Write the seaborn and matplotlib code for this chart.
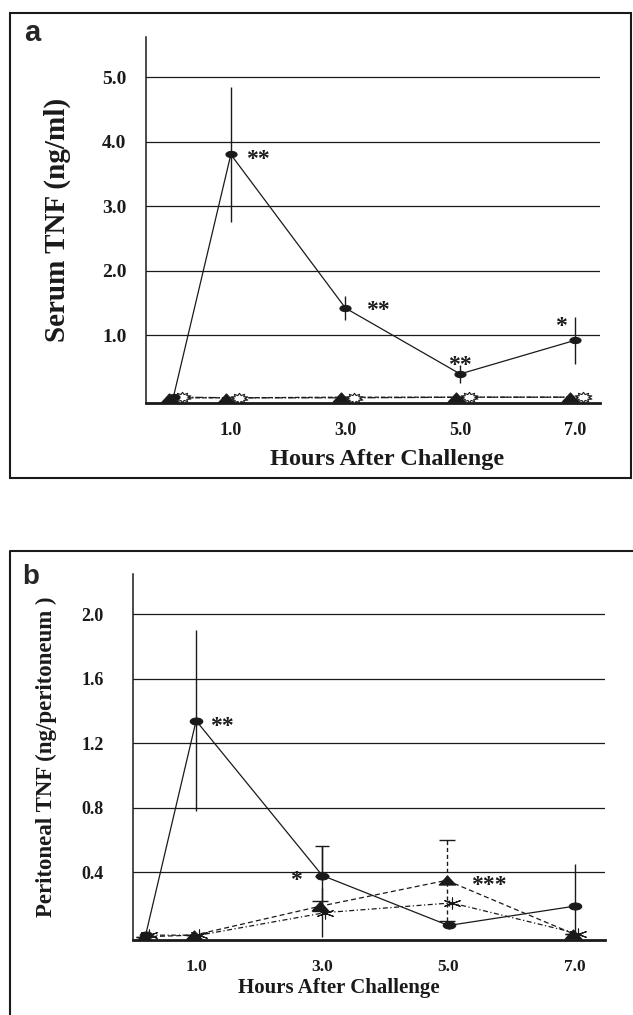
import matplotlib
matplotlib.use("Agg")
import numpy as np
import pandas as pd
import matplotlib.pyplot as plt
from matplotlib.path import Path
from matplotlib.transforms import Affine2D
from matplotlib.lines import Line2D
from matplotlib.patches import Rectangle
import seaborn as sns

# ---- panel a: serum TNF (ng/ml) ----
a_hours = [0.0, 1.0, 3.0, 5.0, 7.0]
a_tnf = [0.05, 3.80, 1.42, 0.40, 0.92]
a_tnf_err = [0.0, 1.05, 0.18, 0.14, 0.36]
a_tri = [0.03, 0.03, 0.04, 0.04, 0.04]
a_star = [0.04, 0.03, 0.03, 0.04, 0.04]
a_sig = ["", "**", "**", "**", "*"]
a_yticks = [1.0, 2.0, 3.0, 4.0, 5.0]

# ---- panel b: peritoneal TNF (ng/peritoneum) ----
b_hours = [0.2, 1.0, 3.0, 5.0, 7.0]
b_tnf = [0.01, 1.34, 0.38, 0.07, 0.19]
b_tnf_err = [0.0, 0.56, 0.18, 0.02, 0.26]
b_tnf_cap = [False, False, True, False, False]
b_tri = [0.0, 0.01, 0.19, 0.35, 0.02]
b_tri_err = [0.0, 0.0, 0.03, 0.25, 0.0]
b_star = [0.01, 0.01, 0.15, 0.21, 0.02]
b_star_err = [0.0, 0.0, 0.15, 0.02, 0.0]
b_sig_tnf = ["", "**", "*", "", ""]
b_sig_tri = ["", "", "", "***", ""]
b_yticks = [0.4, 0.8, 1.2, 1.6, 2.0]

xtick_hours = [1.0, 3.0, 5.0, 7.0]

sns.set_theme(style="white")
plt.rcParams["font.family"] = ["Liberation Serif", "DejaVu Serif"]
plt.rcParams["font.weight"] = "bold"

ellipse = Path.unit_circle().transformed(Affine2D().scale(1.8, 1.0))
flat_tri = Path([(-1, -0.55), (1, -0.55), (0, 0.55), (-1, -0.55)],
                [Path.MOVETO, Path.LINETO, Path.LINETO, Path.CLOSEPOLY])
sun = Path.unit_regular_star(10, 0.6).transformed(Affine2D().scale(1.7, 1.0))
arrows = Path.unit_regular_asterisk(6).transformed(Affine2D().scale(1.6, 1.0))

W, H = 633, 1015
SIG_SIZE = 17
fig = plt.figure(figsize=(W / 100, H / 100), dpi=100)


def frac_box(left, top, right, bottom):
    return [left / W, 1 - bottom / H, (right - left) / W, (bottom - top) / H]


def series(ax, x, y, marker, ms, ls, face="k", dx=0.0):
    df = pd.DataFrame({"hours": np.asarray(x) + dx, "tnf": y})
    sns.lineplot(data=df, x="hours", y="tnf", ax=ax, color="k", lw=0.9,
                 linestyle=ls, marker=marker, markersize=ms,
                 markerfacecolor=face, markeredgecolor="k",
                 markeredgewidth=0.8, sort=False, errorbar=None, zorder=4)


def sig(ax, text, xy, dx, dy, ha):
    # the serif asterisk sits high in its box, so pull it down a little
    ax.annotate(text, xy, xytext=(dx, dy - 0.23 * SIG_SIZE),
                textcoords="offset points", ha=ha, va="center",
                fontsize=SIG_SIZE, fontweight="bold", color="k")


def style_axes(ax, xlim, ylim, yticks, xsize, ysize, ypad):
    ax.set_xlim(*xlim)
    ax.set_ylim(*ylim)
    ax.set_yticks(yticks)
    ax.set_yticklabels(["%.1f" % v for v in yticks])
    ax.yaxis.grid(True, color="#1a1a1a", lw=0.9)
    ax.xaxis.grid(False)
    ax.set_axisbelow(True)
    for s in ["top", "right"]:
        ax.spines[s].set_visible(False)
    ax.spines["left"].set_linewidth(1.1)
    ax.spines["bottom"].set_linewidth(2.0)
    ax.spines["left"].set_color("k")
    ax.spines["bottom"].set_color("k")
    ax.tick_params(axis="y", length=0, pad=ypad, labelsize=ysize,
                   colors="k")
    ax.tick_params(axis="x", direction="inout", length=10, width=1,
                   colors="k", labelsize=xsize)


# ---------------- panel a ----------------
ax = fig.add_axes(frac_box(146, 37, 600, 403))
series(ax, a_hours, a_tri, flat_tri, 12, "--", dx=-0.08)
series(ax, a_hours, a_star, sun, 12, "-.", face="w", dx=0.15)
series(ax, a_hours, a_tnf, ellipse, 8, "-")
ax.errorbar(a_hours, a_tnf, yerr=a_tnf_err, fmt="none", ecolor="k",
            elinewidth=1, capsize=0, zorder=3)
style_axes(ax, (-0.48, 7.44), (-0.05, 5.62), a_yticks, 13, 14, 14)
ax.set_xticks([0.0] + xtick_hours)
ax.set_xticklabels([""] + ["%.1f" % h for h in xtick_hours])
ax.tick_params(axis="x", pad=9)
ax.set_xlabel("Hours After Challenge", fontsize=17.5, fontweight="bold",
              color="k", va="baseline")
ax.xaxis.set_label_coords(0.531, -0.169)
ax.set_ylabel("Serum TNF (ng/ml)", fontsize=21, fontweight="bold",
              color="k", va="center")
ax.yaxis.set_label_coords(-0.196, 0.5)
a_offsets = [None, (11, 0, "left"), (15, 2, "left"), (0, 10, "center"),
             (-10, 14, "center")]
for h, v, s, off in zip(a_hours, a_tnf, a_sig, a_offsets):
    if s:
        sig(ax, s, (h, v), off[0], off[1], off[2])

# ---------------- panel b ----------------
ax = fig.add_axes(frac_box(133, 574, 605, 940))
series(ax, b_hours, b_tri, flat_tri, 12, (0, (4, 2.5)), dx=-0.03)
series(ax, b_hours, b_star, arrows, 11, (0, (4, 2, 1, 2)), dx=0.05)
series(ax, b_hours, b_tnf, ellipse, 9, "-")
ax.errorbar(b_hours, b_tnf, yerr=b_tnf_err, fmt="none", ecolor="k",
            elinewidth=1, capsize=0, zorder=3)
cap_h = [h for h, c in zip(b_hours, b_tnf_cap) if c]
cap_v = [v for v, c in zip(b_tnf, b_tnf_cap) if c]
cap_e = [e for e, c in zip(b_tnf_err, b_tnf_cap) if c]
ax.errorbar(cap_h, cap_v, yerr=[[0] * len(cap_e), cap_e], fmt="none",
            ecolor="k", elinewidth=1, capsize=5, zorder=3)
eb = ax.errorbar(np.asarray(b_hours) - 0.03, b_tri, yerr=b_tri_err,
                 fmt="none", ecolor="k", elinewidth=1, capsize=6, zorder=3)
eb[2][0].set_linestyle((0, (3, 2)))
ax.errorbar(np.asarray(b_hours), b_star, yerr=b_star_err, fmt="none",
            ecolor="k", elinewidth=1, capsize=0, zorder=3)
style_axes(ax, (0.0, 7.48), (-0.02, 2.25), b_yticks, 12.5, 13, 21)
ax.set_xticks([0.2] + xtick_hours)
ax.set_xticklabels([""] + ["%.1f" % h for h in xtick_hours])
ax.tick_params(axis="x", pad=9)
ax.set_xlabel("Hours After Challenge", fontsize=15, fontweight="bold",
              color="k", va="baseline")
ax.xaxis.set_label_coords(0.436, -0.145)
ax.set_ylabel("Peritoneal TNF (ng/peritoneum )", fontsize=16.5,
              fontweight="bold", color="k", va="center")
ax.yaxis.set_label_coords(-0.183, 0.5)
b_tnf_off = {"**": (10, 0, "left"), "*": (-19, 0, "center")}
for h, v, s in zip(b_hours, b_tnf, b_sig_tnf):
    if s:
        dx, dy, ha = b_tnf_off[s]
        sig(ax, s, (h, v), dx, dy, ha)
for h, v, s in zip(b_hours, b_tri, b_sig_tri):
    if s:
        sig(ax, s, (h, v), 16, 0, "left")

# panel frames and letters
fig.add_artist(Rectangle((10 / W, 1 - 478 / H), 621 / W, 465 / H,
                         transform=fig.transFigure, fill=False, lw=1.5,
                         ec="k"))
fig.add_artist(Line2D([10 / W, 10 / W, 1.0], [0.0, 1 - 551 / H, 1 - 551 / H],
                      transform=fig.transFigure, lw=1.5, color="k"))
fig.text(24 / W, 1 - 33 / H, "a", fontsize=21, fontweight="bold",
         family="Liberation Sans", va="center", ha="left")
fig.text(22 / W, 1 - 577 / H, "b", fontsize=20, fontweight="bold",
         family="Liberation Sans", va="center", ha="left")

fig.savefig("out.png", dpi=100, facecolor="white")
